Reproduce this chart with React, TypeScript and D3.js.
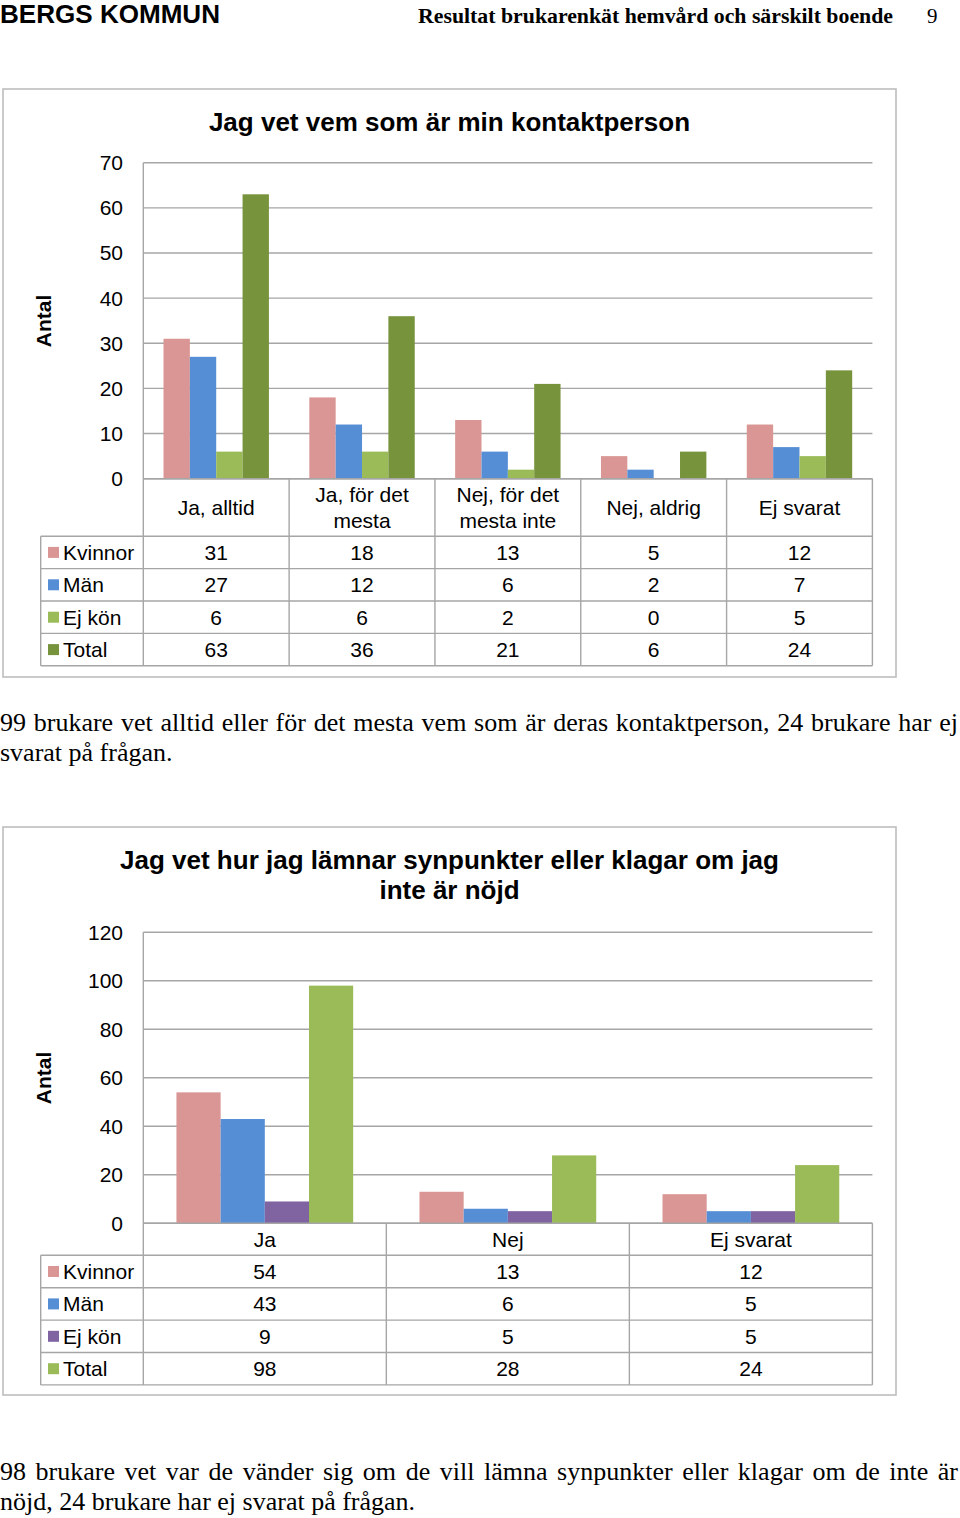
import React, { useEffect, useRef } from "react";
import * as d3 from "d3";

// ---------- data ----------
const seriesNames1 = ["Kvinnor", "Män", "Ej kön", "Total"];
const categories1 = ["Ja, alltid", "Ja, för det mesta", "Nej, för det mesta inte", "Nej, aldrig", "Ej svarat"];
const categoryLines1 = [["Ja, alltid"], ["Ja, för det", "mesta"], ["Nej, för det", "mesta inte"], ["Nej, aldrig"], ["Ej svarat"]];
const kvinnor1 = [31, 18, 13, 5, 12];
const man1 = [27, 12, 6, 2, 7];
const ejKon1 = [6, 6, 2, 0, 5];
const total1 = [63, 36, 21, 6, 24];
const yTicks1 = [0, 10, 20, 30, 40, 50, 60, 70];

const seriesNames2 = ["Kvinnor", "Män", "Ej kön", "Total"];
const categories2 = ["Ja", "Nej", "Ej svarat"];
const categoryLines2 = [["Ja"], ["Nej"], ["Ej svarat"]];
const kvinnor2 = [54, 13, 12];
const man2 = [43, 6, 5];
const ejKon2 = [9, 5, 5];
const total2 = [98, 28, 24];
const yTicks2 = [0, 20, 40, 60, 80, 100, 120];

const colors1 = ["#d99694", "#558ed5", "#9bbb59", "#77933c"];
const colors2 = ["#d99694", "#558ed5", "#8064a2", "#9bbb59"];

const title1 = ["Jag vet vem som är min kontaktperson"];
const title2 = ["Jag vet hur jag lämnar synpunkter eller klagar om jag", "inte är nöjd"];

const para1 = [
  "99 brukare vet alltid eller för det mesta vem som är deras kontaktperson, 24 brukare har ej",
  "svarat på frågan.",
];
const para2 = [
  "98 brukare vet var de vänder sig om de vill lämna synpunkter eller klagar om de inte är",
  "nöjd, 24 brukare har ej svarat på frågan.",
];

const SANS = "'Liberation Sans', Arial, Helvetica, sans-serif";
const SERIF = "'Liberation Serif', 'Times New Roman', Times, serif";
const GRID = "#a6a6a6";

type ChartProps = {
  box: { x: number; y: number; w: number; h: number };
  titleLines: string[];
  titleBaselines: number[];
  plotLeft: number;
  plotRight: number;
  plotTop: number;
  plotBottom: number;
  yMax: number;
  yTicks: number[];
  categories: string[];
  categoryLines: string[][];
  seriesNames: string[];
  values: number[][];
  colors: string[];
  outerPad: number;
  headerH: number;
  rowH: number;
  antalY: number;
  tableLeft: number;
};

function Chart(p: ChartProps) {
  const y = d3.scaleLinear().domain([0, p.yMax]).range([p.plotBottom, p.plotTop]);
  const x = d3.scaleBand<string>().domain(p.categories).range([p.plotLeft, p.plotRight]);
  const sub = d3
    .scaleBand<string>()
    .domain(p.seriesNames)
    .range([0, x.bandwidth()])
    .paddingInner(0)
    .paddingOuter(p.outerPad);
  const fs = 21;
  const tableTop = p.plotBottom;
  const headerBottom = tableTop + p.headerH;
  const tableBottom = headerBottom + p.rowH * p.seriesNames.length;
  const cx = (c: string) => (x(c) as number) + x.bandwidth() / 2;

  return (
    <g>
      <rect x={p.box.x} y={p.box.y} width={p.box.w} height={p.box.h} fill="#fff" stroke="#bdbdbd" strokeWidth={1.6} />
      {p.titleLines.map((t, i) => (
        <text key={i} x={449.5} y={p.titleBaselines[i]} textAnchor="middle" fontFamily={SANS} fontWeight="bold" fontSize={26} fill="#000">
          {t}
        </text>
      ))}
      {/* gridlines */}
      {p.yTicks.map((t) => (
        <g key={t}>
          <line x1={p.plotLeft} x2={p.plotRight} y1={y(t)} y2={y(t)} stroke={GRID} strokeWidth={1.4} />
          <text x={123} y={y(t) + 7.5} textAnchor="end" fontFamily={SANS} fontSize={fs} fill="#000">
            {t}
          </text>
        </g>
      ))}
      <line x1={p.plotLeft} x2={p.plotLeft} y1={p.plotTop} y2={p.plotBottom} stroke={GRID} strokeWidth={1.4} />
      <text
        transform={`translate(50.5,${p.antalY}) rotate(-90)`}
        textAnchor="middle"
        fontFamily={SANS}
        fontWeight="bold"
        fontSize={21}
        fill="#000"
      >
        Antal
      </text>
      {/* bars */}
      {p.categories.map((c, ci) => (
        <g key={c} transform={`translate(${x(c)},0)`}>
          {p.seriesNames.map((s, si) => {
            const v = p.values[si][ci];
            return (
              <rect
                key={s}
                x={sub(s)}
                y={y(v)}
                width={sub.bandwidth()}
                height={p.plotBottom - y(v)}
                fill={p.colors[si]}
              />
            );
          })}
        </g>
      ))}
      {/* table */}
      <g stroke={GRID} strokeWidth={1.4} fill="none">
        <line x1={p.plotLeft} x2={p.plotRight} y1={tableTop} y2={tableTop} />
        {p.seriesNames.map((s, i) => (
          <line key={s} x1={p.tableLeft} x2={p.plotRight} y1={headerBottom + i * p.rowH} y2={headerBottom + i * p.rowH} />
        ))}
        <line x1={p.tableLeft} x2={p.plotRight} y1={tableBottom} y2={tableBottom} />
        <line x1={p.tableLeft} x2={p.tableLeft} y1={headerBottom} y2={tableBottom} />
        <line x1={p.plotLeft} x2={p.plotLeft} y1={tableTop} y2={tableBottom} />
        {p.categories.map((c) => (
          <line key={c} x1={(x(c) as number) + x.bandwidth()} x2={(x(c) as number) + x.bandwidth()} y1={tableTop} y2={tableBottom} />
        ))}
      </g>
      {p.categories.map((c, ci) => {
        const lines = p.categoryLines[ci];
        const mid = tableTop + p.headerH / 2 + 7.5;
        const lh = 26;
        return lines.map((l, li) => (
          <text
            key={c + li}
            x={cx(c)}
            y={mid + (li - (lines.length - 1) / 2) * lh}
            textAnchor="middle"
            fontFamily={SANS}
            fontSize={fs}
            fill="#000"
          >
            {l}
          </text>
        ));
      })}
      {p.seriesNames.map((s, si) => {
        const rowMid = headerBottom + si * p.rowH + p.rowH / 2;
        return (
          <g key={s}>
            <rect x={48} y={rowMid - 5.5} width={11} height={11} fill={p.colors[si]} />
            <text x={63} y={rowMid + 7.5} fontFamily={SANS} fontSize={fs} fill="#000">
              {s}
            </text>
            {p.categories.map((c, ci) => (
              <text key={c} x={cx(c)} y={rowMid + 7.5} textAnchor="middle" fontFamily={SANS} fontSize={fs} fill="#000">
                {p.values[si][ci]}
              </text>
            ))}
          </g>
        );
      })}
    </g>
  );
}

export default function App() {
  const ref = useRef<SVGSVGElement>(null);

  useEffect(() => {
    if (!ref.current) return;
    d3.select(ref.current)
      .selectAll<SVGTextElement, unknown>("text.justify")
      .each(function () {
        const el = this;
        const target = Number(el.getAttribute("data-width"));
        el.setAttribute("word-spacing", "0");
        const natural = el.getComputedTextLength();
        const spaces = (el.textContent || "").split(" ").length - 1;
        if (spaces > 0) el.setAttribute("word-spacing", String((target - natural) / spaces));
      });
  }, []);

  return (
    <svg
      ref={ref}
      width={960}
      height={1518}
      viewBox="0 0 960 1518"
      style={{ position: "absolute", left: 0, top: 0, display: "block", background: "#fff" }}
    >
      <rect x={0} y={0} width={960} height={1518} fill="#fff" />
      {/* page header */}
      <text x={0} y={23} fontFamily={SANS} fontWeight="bold" fontSize={26} textLength={220} lengthAdjust="spacingAndGlyphs" fill="#000">
        BERGS KOMMUN
      </text>
      <text x={418} y={23} fontFamily={SERIF} fontWeight="bold" fontSize={21} textLength={475} lengthAdjust="spacingAndGlyphs" fill="#000">
        Resultat brukarenkät hemvård och särskilt boende
      </text>
      <text x={927} y={23} fontFamily={SERIF} fontSize={21} fill="#000">
        9
      </text>

      <Chart
        box={{ x: 3, y: 89, w: 893, h: 588 }}
        titleLines={title1}
        titleBaselines={[131]}
        plotLeft={143.3}
        plotRight={872.4}
        plotTop={162.7}
        plotBottom={478.7}
        yMax={70}
        yTicks={yTicks1}
        categories={categories1}
        categoryLines={categoryLines1}
        seriesNames={seriesNames1}
        values={[kvinnor1, man1, ejKon1, total1]}
        colors={colors1}
        outerPad={0.767}
        headerH={57.5}
        rowH={32.4}
        antalY={321}
        tableLeft={40.7}
      />

      {para1.map((t, i) => (
        <text
          key={i}
          className={i === 0 ? "justify" : undefined}
          data-width={958}
          x={0}
          y={731 + i * 30}
          fontFamily={SERIF}
          fontSize={26}
          fill="#000"
        >
          {t}
        </text>
      ))}

      <Chart
        box={{ x: 3, y: 827, w: 893, h: 568 }}
        titleLines={title2}
        titleBaselines={[869, 899]}
        plotLeft={143.3}
        plotRight={872.4}
        plotTop={932.3}
        plotBottom={1223.3}
        yMax={120}
        yTicks={yTicks2}
        categories={categories2}
        categoryLines={categoryLines2}
        seriesNames={seriesNames2}
        values={[kvinnor2, man2, ejKon2, total2]}
        colors={colors2}
        outerPad={0.75}
        headerH={32}
        rowH={32.4}
        antalY={1078}
        tableLeft={40.7}
      />

      {para2.map((t, i) => (
        <text
          key={i}
          className={i === 0 ? "justify" : undefined}
          data-width={958}
          x={0}
          y={1480 + i * 30}
          fontFamily={SERIF}
          fontSize={26}
          fill="#000"
        >
          {t}
        </text>
      ))}
    </svg>
  );
}
